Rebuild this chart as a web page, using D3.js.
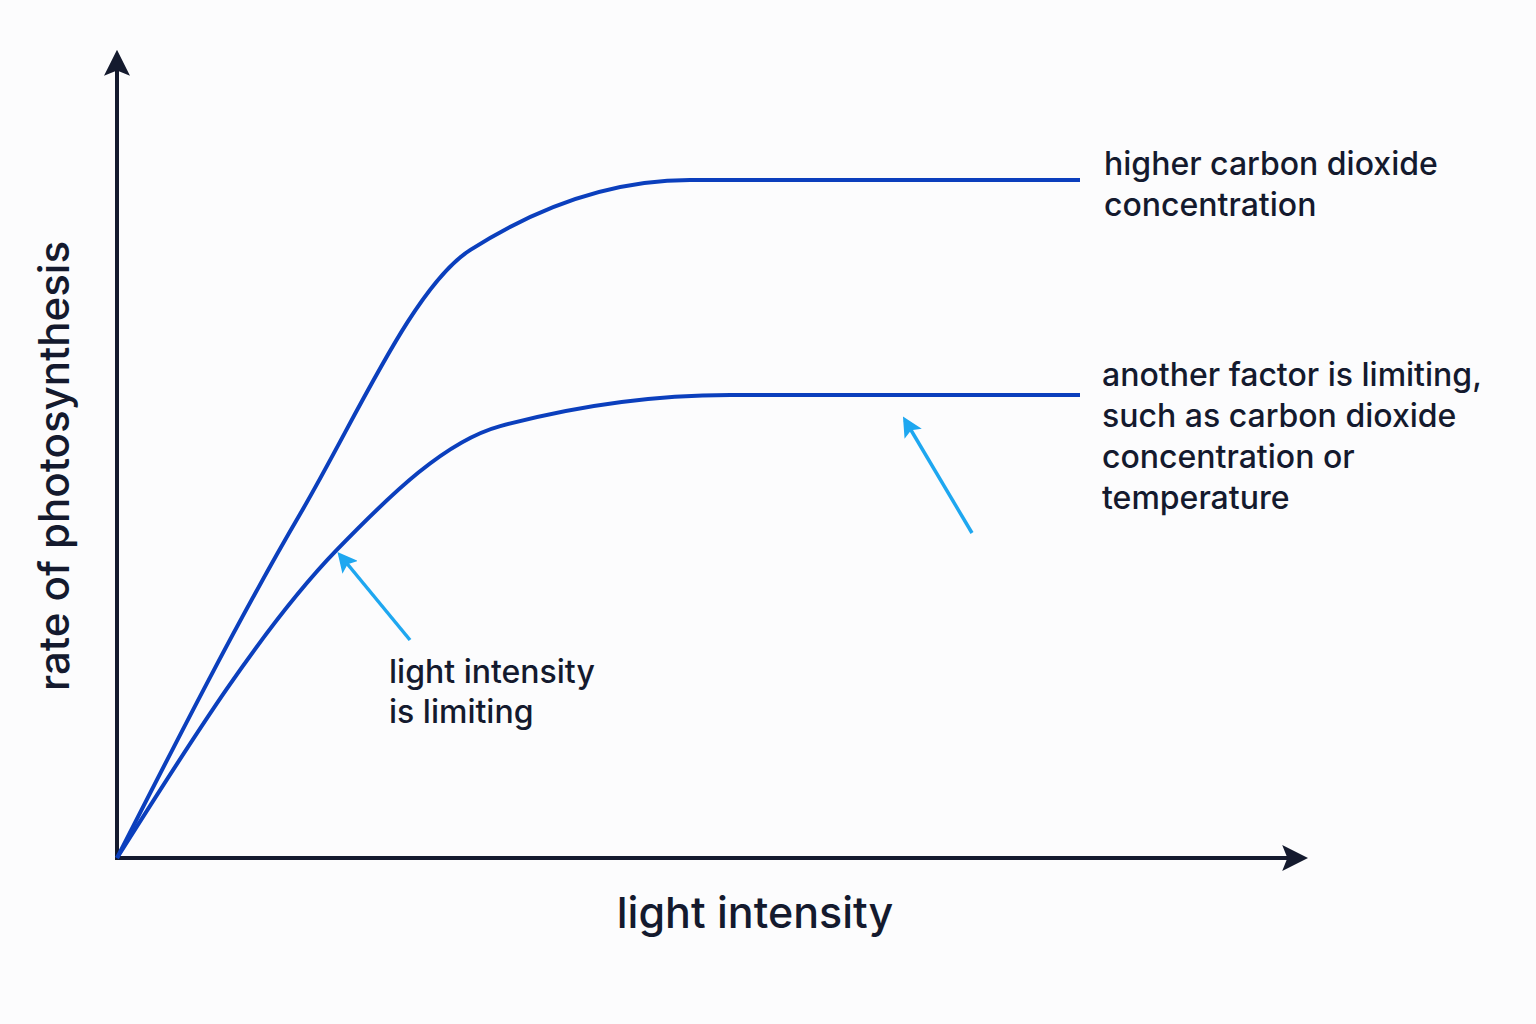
<!DOCTYPE html><html><head><meta charset="utf-8"><script src="https://cdn.jsdelivr.net/npm/d3@7"></script>
<style>body{margin:0;background:#fcfcfd}</style></head><body><svg id="c" width="1536" height="1024"></svg><script>
const upperX=[0,19,36.7,59.5,100];
const upperY=[0,50.7,89.7,100,100];
const lowerX=[0,22.8,39.8,63.7,100];
const lowerY=[0,45.4,63.7,68.3,68.3];
const labels=[["higher carbon dioxide","concentration"],["another factor is limiting,","such as carbon dioxide","concentration or","temperature"],["light intensity","is limiting"]];
const svg=d3.select("#c");
const x=d3.scaleLinear().domain([0,100]).range([117,1080]);
const y=d3.scaleLinear().domain([0,100]).range([858,180]);
const defs=svg.append("defs");
function mk(id,c,s){defs.append("marker").attr("id",id).attr("viewBox","0 0 10 10").attr("refX",8).attr("refY",5).attr("markerWidth",s).attr("markerHeight",s).attr("orient","auto").attr("markerUnits","userSpaceOnUse").append("path").attr("d","M0,0L10,5L0,10L2,5Z").attr("fill",c);}
mk("ax","#141a2e",26);mk("ar","#1ea7f0",20);
const ink="#141a2e";
svg.append("line").attr("x1",117).attr("y1",858).attr("x2",117).attr("y2",55).attr("stroke",ink).attr("stroke-width",4).attr("marker-end","url(#ax)");
svg.append("line").attr("x1",115).attr("y1",858).attr("x2",1303).attr("y2",858).attr("stroke",ink).attr("stroke-width",4).attr("marker-end","url(#ax)");
const line=d3.line().x(d=>x(d[0])).y(d=>y(d[1])).curve(d3.curveMonotoneX);
[[upperX,upperY],[lowerX,lowerY]].forEach(([xs,ys])=>svg.append("path").attr("d",line(xs.map((v,i)=>[v,ys[i]]))).attr("fill","none").attr("stroke","#0b3fbd").attr("stroke-width",4));
svg.append("line").attr("x1",410).attr("y1",640).attr("x2",340).attr("y2",555).attr("stroke","#1ea7f0").attr("stroke-width",3.5).attr("marker-end","url(#ar)");
svg.append("line").attr("x1",972).attr("y1",533).attr("x2",905).attr("y2",420).attr("stroke","#1ea7f0").attr("stroke-width",3.5).attr("marker-end","url(#ar)");
const f="Inter, 'Noto Sans', sans-serif";
function txt(lines,x0,y0,lh){const t=svg.append("text").attr("font-family",f).attr("font-size",32).attr("font-weight",500).attr("fill",ink);lines.forEach((l,i)=>t.append("tspan").attr("x",x0).attr("y",y0+i*lh).text(l));}
txt(labels[0],1104,175,41);txt(labels[1],1102,386,41);txt(labels[2],389,683,40);
svg.append("text").attr("x",755).attr("y",928).attr("text-anchor","middle").attr("font-family",f).attr("font-size",43).attr("font-weight",500).attr("fill",ink).text("light intensity");
svg.append("text").attr("transform","translate(69,466) rotate(-90)").attr("text-anchor","middle").attr("font-family",f).attr("font-size",42).attr("font-weight",500).attr("fill",ink).text("rate of photosynthesis");
</script></body></html>
